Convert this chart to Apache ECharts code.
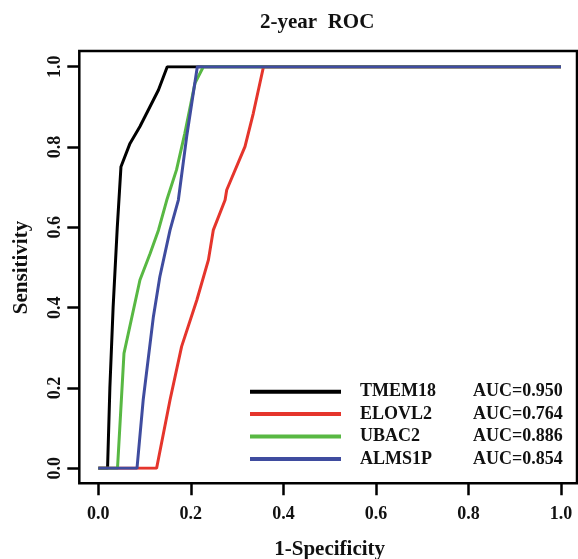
<!DOCTYPE html>
<html>
<head>
<meta charset="utf-8">
<script src="https://cdn.jsdelivr.net/npm/echarts@6/dist/echarts.min.js"></script>
<style>html,body{margin:0;padding:0;background:#fff;}#c{width:578px;height:559px;}</style>
</head>
<body>
<div id="c"></div>
<script>
var chartTitle = '2-year  ROC';
var xName = '1-Specificity';
var yName = 'Sensitivity';
var seriesNames = ['TMEM18', 'ELOVL2', 'UBAC2', 'ALMS1P'];
var aucLabels = ['AUC=0.950', 'AUC=0.764', 'AUC=0.886', 'AUC=0.854'];
var colors = ['#000000', '#e5352c', '#58b843', '#3f4c9f'];

var tmem18 = [[0,0],[0.020,0],[0.025,0.20],[0.032,0.40],[0.041,0.60],[0.049,0.751],[0.0685,0.809],[0.090,0.851],[0.130,0.942],[0.149,1],[1,1]];
var elovl2 = [[0,0],[0.126,0],[0.155,0.170],[0.180,0.303],[0.213,0.419],[0.238,0.519],[0.2485,0.593],[0.274,0.668],[0.2775,0.693],[0.317,0.801],[0.335,0.884],[0.357,1],[1,1]];
var ubac2 = [[0,0],[0.0415,0],[0.0555,0.286],[0.090,0.469],[0.112,0.535],[0.130,0.593],[0.148,0.668],[0.169,0.743],[0.187,0.834],[0.209,0.959],[0.227,1],[1,1]];
var alms1p = [[0,0],[0.0836,0],[0.097,0.170],[0.119,0.377],[0.133,0.477],[0.155,0.593],[0.173,0.668],[0.191,0.826],[0.214,1],[1,1]];
var seriesData = [tmem18, elovl2, ubac2, alms1p];

var FONT = '"Liberation Serif", "Times New Roman", serif';
var chart = echarts.init(document.getElementById('c'), null, {renderer: 'canvas'});

var series = seriesNames.map(function (n, i) {
  return {
    name: n, type: 'line', xAxisIndex: 1, yAxisIndex: 1,
    data: seriesData[i], showSymbol: false, symbol: 'none',
    lineStyle: {color: colors[i], width: 3}, itemStyle: {color: colors[i]},
    animation: false
  };
});

var aucMap = {};
seriesNames.forEach(function (n, i) { aucMap[n] = aucLabels[i]; });

chart.setOption({
  backgroundColor: '#ffffff',
  animation: false,
  title: {
    text: chartTitle, left: 260, top: 12, padding: 0,
    textStyle: {fontFamily: FONT, fontWeight: 'bold', fontSize: 21, color: '#111'}
  },
  grid: [
    {left: 79.3, top: 51, right: 1, bottom: 75.7, show: true, borderColor: '#000', borderWidth: 2.5, backgroundColor: 'transparent', containLabel: false, outerBoundsMode: 'none'},
    {left: 98.3, top: 66.7, right: 17, bottom: 90.7, containLabel: false, outerBoundsMode: 'none'}
  ],
  xAxis: [
    {gridIndex: 0, type: 'value', show: false, min: 0, max: 1},
    {gridIndex: 1, type: 'value', min: 0, max: 1, interval: 0.2, offset: 15,
     axisLine: {show: false, onZero: false},
     axisTick: {show: true, length: 12, lineStyle: {color: '#000', width: 2.5}},
     splitLine: {show: false},
     axisLabel: {margin: 22, color: '#111', fontFamily: FONT, fontWeight: 'bold', fontSize: 18,
       formatter: function (v) { return v.toFixed(1); }},
     name: xName, nameLocation: 'middle', nameGap: 56,
     nameTextStyle: {fontFamily: FONT, fontWeight: 'bold', fontSize: 21, color: '#111'}}
  ],
  yAxis: [
    {gridIndex: 0, type: 'value', show: false, min: 0, max: 1},
    {gridIndex: 1, type: 'value', min: 0, max: 1, interval: 0.2, offset: 19,
     axisLine: {show: false, onZero: false},
     axisTick: {show: true, length: 12, lineStyle: {color: '#000', width: 2.5}},
     splitLine: {show: false},
     axisLabel: {margin: 15, rotate: 90, color: '#111', fontFamily: FONT, fontWeight: 'bold', fontSize: 18,
       formatter: function (v) { return v.toFixed(1); }},
     name: yName, nameLocation: 'middle', nameGap: 47, nameRotate: 90,
     nameTextStyle: {fontFamily: FONT, fontWeight: 'bold', fontSize: 21, color: '#111'}}
  ],
  legend: {
    orient: 'vertical', left: 250, top: 381.7, padding: 0,
    icon: 'rect', itemWidth: 91, itemHeight: 4, itemGap: 2.4,
    data: seriesNames,
    formatter: function (n) { return '{p| }{n|' + n + '}{a|' + aucMap[n] + '}'; },
    textStyle: {
      fontFamily: FONT, fontWeight: 'bold', fontSize: 18, color: '#111', lineHeight: 20,
      rich: {
        p: {width: 14, fontSize: 18, lineHeight: 20},
        n: {width: 113, fontFamily: FONT, fontWeight: 'bold', fontSize: 18, color: '#111', lineHeight: 20},
        a: {fontFamily: FONT, fontWeight: 'bold', fontSize: 18, color: '#111', lineHeight: 20}
      }
    }
  },
  series: series
});
</script>
</body>
</html>
